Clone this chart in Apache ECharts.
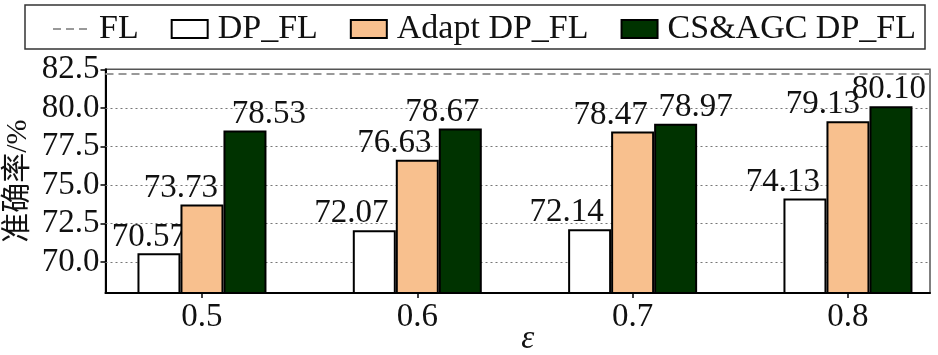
<!DOCTYPE html>
<html>
<head>
<meta charset="utf-8">
<script src="https://cdn.jsdelivr.net/npm/echarts@6/dist/echarts.min.js"></script>
<style>html,body{margin:0;padding:0;background:#fff}#c{width:938px;height:355px}</style>
</head>
<body>
<div id="c"></div>
<script>
const categories = ['0.5', '0.6', '0.7', '0.8'];
const flValue = 82.2;
const dpFL = [70.57, 72.07, 72.14, 74.13];
const adaptDpFL = [73.73, 76.63, 78.47, 79.13];
const csAgcDpFL = [78.53, 78.67, 78.97, 80.10];
const yTicks = [70.0, 72.5, 75.0, 77.5, 80.0, 82.5];
const gridValues = [70.0, 72.5, 75.0, 77.5, 80.0];

// label horizontal nudges (style)
const dpOff = [-10, -23, -23, -22];
const adOff = [-21, -23, -22, -25];
const csOff = [24, -18, 20, -2];

const FONT = "'Liberation Serif', 'Noto Sans CJK SC', serif";
const chart = echarts.init(document.getElementById('c'), null, {renderer: 'canvas'});

function barData(vals, offs) {
  return vals.map((v, i) => ({value: [i, v], label: {offset: [offs[i], 0]}}));
}
const barLabel = {
  show: true, position: 'top', distance: 0,
  fontFamily: FONT, fontSize: 33, color: '#111',
  formatter: p => p.value[1].toFixed(2)
};

chart.setOption({
  animation: false,
  textStyle: {fontFamily: FONT},
  graphic: [{
    type: 'rect', shape: {x: 25, y: 5, width: 900, height: 44},
    style: {fill: 'none', stroke: '#333', lineWidth: 1.5}, z: 100, silent: true
  }],
  legend: {
    left: 47, top: 7, itemGap: 32, itemWidth: 36, itemHeight: 18,
    textStyle: {fontFamily: FONT, fontSize: 34, color: '#111', padding: [0, 0, 0, 5]},
    data: [
      {name: 'FL', itemStyle: {opacity: 0}},
      {name: 'DP_FL', icon: 'rect'},
      {name: 'Adapt DP_FL', icon: 'rect'},
      {name: 'CS&AGC DP_FL', icon: 'rect'}
    ]
  },
  grid: {left: 105.5, right: 8, top: 69.3, bottom: 62, show: true, containLabel: false,
         outerBoundsMode: 'none',
         borderColor: '#555', borderWidth: 1.5, backgroundColor: 'transparent'},
  xAxis: {
    type: 'value', min: -0.448, max: 3.381,
    name: 'ε', nameLocation: 'middle', nameGap: 30, nameMoveOverlap: false,
    nameTextStyle: {fontFamily: FONT, fontSize: 33, fontStyle: 'italic', color: '#111', padding: [0, 0, 0, 20]},
    axisLine: {show: true, onZero: false, lineStyle: {color: '#000', width: 2}},
    axisTick: {show: true, length: 5, customValues: [0, 1, 2, 3], lineStyle: {color: '#000', width: 1.5}},
    axisLabel: {customValues: [0, 1, 2, 3], margin: 8, fontFamily: FONT, fontSize: 33, color: '#111',
                formatter: v => categories[Math.round(v)]},
    splitLine: {show: false}
  },
  yAxis: {
    type: 'value', min: 68, max: 82.5,
    name: '准确率/%', nameLocation: 'middle', nameGap: 72, nameRotate: 90, nameMoveOverlap: false,
    nameTextStyle: {fontFamily: FONT, fontSize: 30, color: '#111'},
    axisLine: {show: true, onZero: false, lineStyle: {color: '#000', width: 2}},
    axisTick: {show: true, length: 5, customValues: yTicks, lineStyle: {color: '#000', width: 1.5}},
    axisLabel: {customValues: yTicks, margin: 6, fontFamily: FONT, fontSize: 33, color: '#111',
                formatter: v => v.toFixed(1)},
    splitLine: {show: false}
  },
  series: [
    {
      name: 'FL', type: 'line', data: [], symbol: 'none',
      itemStyle: {color: '#999'},
      lineStyle: {color: '#999', width: 2, type: [8, 5]},
      markLine: {
        silent: true, symbol: 'none', z: 6, label: {show: false},
        lineStyle: {color: '#999', width: 2, type: [8, 5]},
        data: [{yAxis: flValue}]
      }
    },
    {
      name: 'DP_FL', type: 'bar', z: 2, barWidth: 43, barGap: '0%',
      data: barData(dpFL, dpOff),
      itemStyle: {color: '#ffffff', borderColor: '#000', borderWidth: 2},
      label: barLabel,
      markLine: {
        silent: true, symbol: 'none', z: 1, label: {show: false},
        lineStyle: {color: '#777', width: 1, type: [2, 3]},
        data: gridValues.map(v => ({yAxis: v}))
      }
    },
    {
      name: 'Adapt DP_FL', type: 'bar', z: 3, barWidth: 43, barGap: '0%',
      data: barData(adaptDpFL, adOff),
      itemStyle: {color: '#F8C08E', borderColor: '#000', borderWidth: 2},
      label: barLabel
    },
    {
      name: 'CS&AGC DP_FL', type: 'bar', z: 4, barWidth: 43, barGap: '0%',
      data: barData(csAgcDpFL, csOff),
      itemStyle: {color: '#003300', borderColor: '#000', borderWidth: 2},
      label: barLabel
    }
  ]
});
</script>
</body>
</html>
